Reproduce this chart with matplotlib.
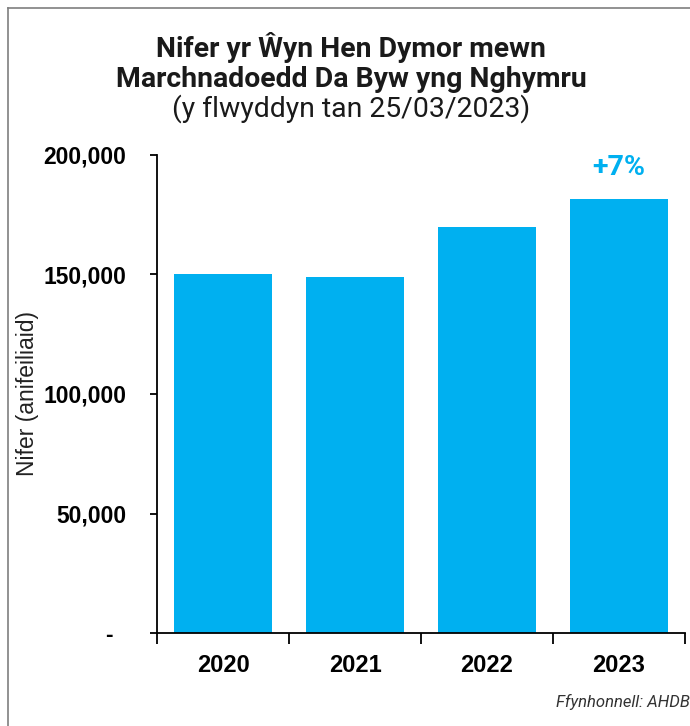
import numpy as np
import matplotlib.pyplot as plt
from matplotlib.lines import Line2D
from matplotlib.ticker import FuncFormatter, FixedLocator

# data
years = ['2020', '2021', '2022', '2023']
lambs = [150000, 149000, 170000, 181500]
change_label = '+7%'

title1 = 'Nifer yr Ŵyn Hen Dymor mewn'
title2 = 'Marchnadoedd Da Byw yng Nghymru'
title3 = '(y flwyddyn tan 25/03/2023)'
ylabel = 'Nifer (anifeiliaid)'
source = 'Ffynhonnell: AHDB'

blue = '#00B0F0'
tfont = ['Roboto', 'DejaVu Sans']
afont = ['Liberation Sans', 'DejaVu Sans']

W, H = 690, 726
f = plt.figure(figsize=(W/100, H/100), dpi=100)
ax = f.add_axes([157/W, 1-633/H, (685-157)/W, (633-155)/H])

x = np.arange(len(years))
ax.bar(x, lambs, width=0.735, color=blue, zorder=2)

ax.set_xlim(-0.5, len(years)-0.5)
ax.set_ylim(0, 200000)

for s in ['top', 'right']:
    ax.spines[s].set_visible(False)
for s in ['left', 'bottom']:
    ax.spines[s].set_linewidth(1.3)
    ax.spines[s].set_color('black')

ax.set_yticks([0, 50000, 100000, 150000, 200000])
ax.yaxis.set_major_formatter(FuncFormatter(lambda v, p: '-  ' if v == 0 else f'{v:,.0f}'))
ax.tick_params(axis='y', direction='out', length=5, width=1.3, pad=17)
for lab in ax.get_yticklabels():
    lab.set_family(afont)
    lab.set_fontweight('bold')
    lab.set_fontsize(16.5)

ax.set_xticks(x)
ax.set_xticklabels(years, family=afont, fontweight='bold', fontsize=17)
ax.tick_params(axis='x', length=0, pad=15)
ax.xaxis.set_minor_locator(FixedLocator(np.arange(len(years)+1)-0.5))
ax.tick_params(axis='x', which='minor', direction='out', length=8, width=1.3)

ax.set_ylabel(ylabel, family=afont, fontsize=16.5, color='#222222')
ax.yaxis.set_label_coords(-0.224, 0.5)

ax.annotate(change_label, xy=(x[-1], lambs[-1]), xytext=(0, 23), textcoords='offset points',
            ha='center', va='center', color=blue, fontsize=20.5, fontweight='bold',
            family=tfont)

cx = 351/W
f.text(cx, 1-57/H, title1, ha='center', va='baseline', fontsize=20.4, fontweight='bold',
       family=tfont, color='#1a1a1a')
f.text(cx, 1-87/H, title2, ha='center', va='baseline', fontsize=20.4, fontweight='bold',
       family=tfont, color='#1a1a1a')
f.text(cx, 1-117/H, title3, ha='center', va='baseline', fontsize=20.4,
       family=tfont, color='#1a1a1a')

f.text(1-0.5/W, 1-707/H, source, ha='right', va='baseline', fontsize=12, style='italic',
       family=tfont, color='#333333')

# frame around the chart
f.add_artist(Line2D([8/W, 8/W], [0, 1-8/H], color='#7f7f7f', lw=1.2))
f.add_artist(Line2D([8/W, 1], [1-8/H, 1-8/H], color='#7f7f7f', lw=1.2))

f.savefig('out.png', dpi=100)
